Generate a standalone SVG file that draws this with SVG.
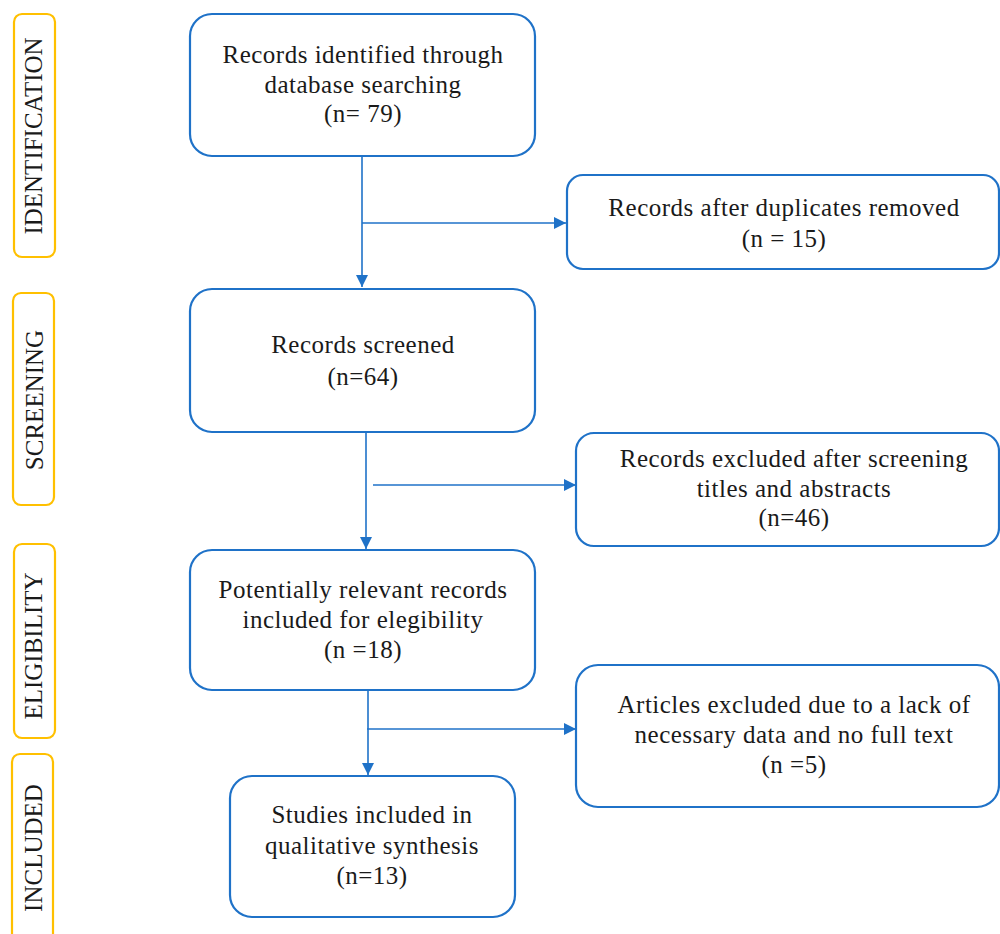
<svg xmlns="http://www.w3.org/2000/svg" width="1000" height="934" viewBox="0 0 1000 934">
<style>
.phase{fill:#fff;stroke:#FFC000;stroke-width:2.2}
.box{fill:#fff;stroke:#1F72C8;stroke-width:2.2}
.ptxt{font-family:"Liberation Serif",serif;font-size:25px;fill:#1a1a1a;text-anchor:middle}
.txt{font-family:"Liberation Serif",serif;font-size:25px;letter-spacing:0.5px;fill:#1a1a1a;text-anchor:middle}
.ln{fill:none;stroke:#1F72C8;stroke-width:1.6}
</style>
<defs>
<marker id="ah" markerWidth="12" markerHeight="12" viewBox="0 0 12 12" refX="12" refY="6" orient="auto" markerUnits="userSpaceOnUse">
<path d="M0,0 L12,6 L0,12 Z" fill="#1F72C8"/>
</marker>
</defs>
<rect width="1000" height="934" fill="#fff"/>
<g id="phase-identification">
<rect class="phase" x="14" y="14" width="41" height="243" rx="8"/>
<text class="ptxt" transform="translate(42,136) rotate(-90)">IDENTIFICATION</text>
</g>
<g id="phase-screening">
<rect class="phase" x="13" y="293" width="41" height="212" rx="8"/>
<text class="ptxt" transform="translate(43,400) rotate(-90)">SCREENING</text>
</g>
<g id="phase-eligibility">
<rect class="phase" x="14" y="544" width="41" height="194" rx="8"/>
<text class="ptxt" transform="translate(42,646) rotate(-90)">ELIGIBILITY</text>
</g>
<g id="phase-included">
<rect class="phase" x="12" y="754" width="41" height="200" rx="8"/>
<text class="ptxt" transform="translate(42,848) rotate(-90)">INCLUDED</text>
</g>
<g id="connectors">
<path class="ln" d="M362,156 V287" marker-end="url(#ah)"/>
<path class="ln" d="M362,223 H566" marker-end="url(#ah)"/>
<path class="ln" d="M366,432 V549" marker-end="url(#ah)"/>
<path class="ln" d="M373,485 H576" marker-end="url(#ah)"/>
<path class="ln" d="M368,690 V775" marker-end="url(#ah)"/>
<path class="ln" d="M367,729 H576" marker-end="url(#ah)"/>
</g>
<g id="n1">
<rect class="box" x="190" y="14" width="345" height="142" rx="22"/>
<text class="txt" x="363" y="63">Records identified through</text>
<text class="txt" x="363" y="93">database searching</text>
<text class="txt" x="363" y="122">(n= 79)</text>
</g>
<g id="n2">
<rect class="box" x="567" y="175" width="432" height="94" rx="16"/>
<text class="txt" x="784" y="216">Records after duplicates removed</text>
<text class="txt" x="784" y="247">(n = 15)</text>
</g>
<g id="n3">
<rect class="box" x="190" y="289" width="345" height="143" rx="22"/>
<text class="txt" x="363" y="353">Records screened</text>
<text class="txt" x="363" y="385">(n=64)</text>
</g>
<g id="n4">
<rect class="box" x="576" y="433" width="423" height="113" rx="18"/>
<text class="txt" x="794" y="467">Records excluded after screening</text>
<text class="txt" x="794" y="497">titles and abstracts</text>
<text class="txt" x="794" y="526">(n=46)</text>
</g>
<g id="n5">
<rect class="box" x="190" y="550" width="345" height="140" rx="22"/>
<text class="txt" x="363" y="598">Potentially relevant records</text>
<text class="txt" x="363" y="628">included for elegibility</text>
<text class="txt" x="363" y="658">(n =18)</text>
</g>
<g id="n6">
<rect class="box" x="576" y="665" width="423" height="142" rx="22"/>
<text class="txt" x="794" y="713">Articles excluded due to a lack of</text>
<text class="txt" x="794" y="743">necessary data and no full text</text>
<text class="txt" x="794" y="773">(n =5)</text>
</g>
<g id="n7">
<rect class="box" x="230" y="776" width="285" height="141" rx="22"/>
<text class="txt" x="372" y="823">Studies included in</text>
<text class="txt" x="372" y="854">qualitative synthesis</text>
<text class="txt" x="372" y="884">(n=13)</text>
</g>
</svg>
